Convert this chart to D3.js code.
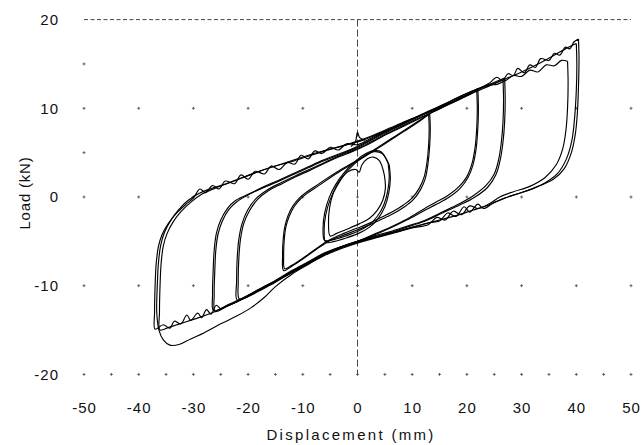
<!DOCTYPE html>
<html>
<head>
<meta charset="utf-8">
<script src="https://cdn.jsdelivr.net/npm/d3@7"></script>
<style>
  body { margin: 0; background: #fff; }
  text { font-family: "Liberation Sans", Arial, Helvetica, sans-serif; fill: #111; }
</style>
</head>
<body>
<svg id="chart" width="641" height="445"></svg>
<script>
// Axis ticks
const xTicks = [-50, -40, -30, -20, -10, 0, 10, 20, 30, 40, 50];
const yTicks = [-20, -10, 0, 10, 20];
// Grid marker rows / extra minor markers
const markerRows = [-20, -10, 0, 10];
const minorBottomX = [-45, -35, -25, -15, -5, 5, 15, 25, 35, 45];
const minorLeftY = [5, 15];

// Hysteresis cycles, [displacement (mm), load (kN)], traced clockwise from the positive peak
const loop40a = [[40.4,17.8],[40.5,15.5],[40.4,12.5],[40.2,9.5],[39.8,7],[39.1,5],[37.8,3.2],[35.8,2.0],[33,1.2],[30,0.5],[27,-0.1],[24,-0.9],[21,-1.5],[18,-2.1],[15,-2.6],[12,-3.1],[9,-3.6],[6,-4.1],[3,-4.6],[0,-5.1],[-3,-5.7],[-6,-6.5],[-9,-7.6],[-12,-8.7],[-15,-10.1],[-17,-11.3],[-19.5,-12.5],[-22,-13.4],[-25,-14.3],[-28,-15.3],[-30.5,-16.0],[-32.5,-16.6],[-34.3,-16.7],[-35.5,-16.1],[-36.3,-15.0],[-36.7,-13],[-36.6,-10],[-36.4,-7.5],[-36,-5.5],[-35.3,-4],[-34.2,-2.7],[-32.8,-1.5],[-31,-0.4],[-29,0.4],[-27,0.9],[-24,1.5],[-21,2.2],[-18,2.9],[-15,3.5],[-12,4.0],[-9,4.6],[-6,5.2],[-3,5.7],[0,6.3],[3,7.0],[6,7.8],[9,8.6],[12,9.3],[15,10.1],[18,10.9],[21,11.8],[24,12.8],[25.5,13.5],[26.5,13.1],[27.5,13.9],[28.5,13.7],[29.3,14.5],[30.5,14.0],[31.5,14.9],[32.5,14.6],[33.5,15.6],[35,15.4],[36,16.2],[37,16.0],[38,16.9],[38.8,16.7],[39.6,17.5],[40.4,17.8]];
const loop40b = [[40.0,17.3],[40.1,15],[40.0,12],[39.7,9],[39.2,6.4],[38.2,4.3],[36.5,2.6],[34,1.5],[31,0.7],[28,0.1],[25,-0.6],[23,-1.3],[22,-0.8],[20.5,-1.7],[19.5,-1.1],[18,-2.2],[16.5,-1.8],[15,-2.7],[13,-2.9],[10,-3.4],[7,-3.9],[4,-4.4],[1,-4.9],[-2,-5.5],[-5,-6.2],[-8,-7.1],[-11,-8.1],[-14,-9.1],[-17,-10.1],[-20,-11.1],[-22,-11.8],[-24,-12.3],[-25,-12.6],[-25.8,-12.2],[-26.8,-13.2],[-27.6,-12.7],[-28.5,-13.6],[-29.2,-13.1],[-30.5,-13.9],[-31.2,-13.3],[-32.3,-14.3],[-33.5,-14.0],[-34.3,-14.8],[-35.5,-14.4],[-37,-14.9],[-37.1,-13],[-37,-10],[-36.8,-7.5],[-36.4,-5.6],[-35.7,-4.2],[-34.6,-3.0],[-33.2,-1.9],[-31.5,-0.9],[-30,-0.1],[-28.8,0.9],[-27.8,0.5],[-26.5,1.3],[-25.3,0.9],[-24.2,1.8],[-22.5,1.5],[-21.3,2.5],[-20,2.0],[-18.7,2.9],[-17,2.6],[-15.8,3.5],[-14.3,3.1],[-12.8,3.9],[-11.5,3.7],[-10.3,4.7],[-9,4.3],[-7.8,5.2],[-6.5,4.9],[-5.0,5.6],[-3.5,5.3],[-2,6.0],[0,5.9],[3,6.8],[6,7.6],[9,8.5],[12,9.3],[15,10.0],[18,10.8],[21,11.7],[24,12.5],[27,13.3],[30,14.1],[33,15.0],[36,16.0],[38,16.7],[40,17.3]];
const loop38 = [[38.4,15.3],[38.5,13],[38.4,10],[38.1,7.5],[37.5,5.4],[36.3,3.6],[34.3,2.2],[31.5,1.2],[28.5,0.6],[26,0],[24,-0.8],[22,-1.3],[20.5,-1.0],[19,-2.0],[17.5,-1.6],[16,-2.6],[14.5,-2.3],[13,-3.1],[10,-3.5],[7,-4.0],[4,-4.5],[1,-5.0],[-2,-5.6],[-5,-6.3],[-8,-7.2],[-11,-8.2],[-14,-9.2],[-17,-10.2],[-20,-11.2],[-23,-12.1],[-26,-12.9],[-29,-13.6],[-32,-14.2],[-34.5,-14.7],[-36.1,-15.0],[-36.2,-13],[-36.1,-10],[-35.9,-7.5],[-35.5,-5.5],[-34.8,-4.1],[-33.7,-2.8],[-32.2,-1.6],[-30.5,-0.6],[-28.5,0.3],[-26,1.0],[-23,1.7],[-20,2.4],[-17,3.1],[-14,3.7],[-11,4.3],[-8,4.9],[-5,5.4],[-2,5.9],[0,6.2],[3,6.9],[6,7.7],[9,8.5],[12,9.3],[15,10.1],[18,10.9],[21,11.8],[24,12.6],[25.5,12.7],[27,13.1],[28.5,13.7],[30,13.6],[31.5,14.3],[33,14.1],[34.5,14.9],[36,14.8],[37.3,15.4],[38.4,15.3]];
const loop27a = [[26.9,13.4],[27.0,11],[26.9,8.5],[26.6,6.2],[26.1,4.2],[25.3,2.5],[23.8,1.1],[21.5,0],[18.7,-0.9],[15.5,-1.8],[12,-2.8],[9,-3.4],[6,-4.0],[3,-4.5],[0,-5.0],[-3,-5.6],[-6,-6.3],[-9,-7.3],[-12,-8.3],[-15,-9.4],[-18,-10.4],[-21,-11.4],[-23.5,-12.1],[-26.3,-12.8],[-26.5,-11],[-26.4,-8.5],[-26.2,-6],[-25.8,-4.1],[-25.0,-2.6],[-23.8,-1.3],[-22.3,-0.4],[-20,0.3],[-17,1.1],[-14,1.9],[-11.5,2.6],[-9,3.3],[-6.5,4.0],[-4,4.6],[-1.5,5.2],[1,5.9],[4,6.9],[7,7.8],[10,8.7],[13,9.6],[16,10.5],[19,11.4],[22,12.2],[24.5,12.8],[26.9,13.4]];
const loop27b = [[26.6,13.2],[26.7,11],[26.6,8.5],[26.3,6.2],[25.8,4.2],[25.0,2.6],[23.5,1.3],[21.3,0.2],[18.5,-0.8],[15.5,-1.7],[12,-2.7],[9,-3.3],[6,-3.9],[3,-4.4],[0,-5.0],[-3,-5.6],[-6,-6.4],[-9,-7.4],[-12,-8.4],[-15,-9.5],[-18,-10.5],[-21,-11.5],[-23.5,-12.2],[-26.0,-12.9],[-26.2,-11],[-26.1,-8.5],[-25.9,-6],[-25.5,-4.2],[-24.7,-2.7],[-23.5,-1.4],[-22,-0.5],[-19.8,0.3],[-17,1.2],[-14,2.0],[-11.5,2.7],[-9,3.4],[-6.5,4.1],[-4,4.7],[-1.5,5.3],[1,6.0],[4,7.0],[7,7.9],[10,8.8],[13,9.7],[16,10.5],[19,11.4],[22,12.2],[24.5,12.7],[26.6,13.2]];
const loop22a = [[22.0,12.2],[22.1,10],[22.0,7.8],[21.7,5.5],[21.1,3.6],[20.2,2.2],[18.8,1.0],[16.8,0],[14.5,-0.8],[12,-1.6],[9,-2.6],[6,-3.5],[3,-4.3],[0,-5.0],[-3,-5.6],[-6,-6.4],[-9,-7.4],[-12,-8.4],[-15,-9.5],[-18,-10.5],[-20,-11.1],[-21.6,-11.5],[-21.8,-9.5],[-21.7,-7],[-21.4,-4.8],[-20.8,-3.0],[-19.8,-1.6],[-18.3,-0.3],[-16.3,0.7],[-13.8,1.5],[-11.2,2.3],[-8.7,3.0],[-6,3.8],[-3.5,4.5],[-1,5.1],[1.5,5.8],[4.5,6.8],[7.5,7.7],[10.5,8.6],[13.5,9.5],[16.5,10.4],[19.5,11.4],[22.0,12.2]];
const loop22b = [[21.8,12.0],[21.9,10],[21.8,7.8],[21.5,5.6],[20.9,3.7],[20.0,2.3],[18.6,1.2],[16.6,0.2],[14.3,-0.6],[12,-1.4],[9,-2.5],[6,-3.4],[3,-4.2],[0,-5.0],[-3,-5.7],[-6,-6.5],[-9,-7.5],[-12,-8.5],[-15,-9.6],[-18,-10.6],[-20.2,-11.3],[-22.0,-11.6],[-22.1,-9.5],[-22.0,-7],[-21.7,-4.8],[-21.1,-3.0],[-20.1,-1.5],[-18.6,-0.2],[-16.5,0.8],[-14,1.6],[-11.3,2.4],[-8.8,3.1],[-6,3.9],[-3.5,4.6],[-1,5.2],[1.5,5.9],[4.5,6.9],[7.5,7.8],[10.5,8.7],[13.5,9.5],[16.5,10.4],[19.5,11.3],[21.8,12.0]];
const loop13a = [[13.2,9.4],[13.3,7.8],[13.2,5.8],[12.9,3.8],[12.4,2.1],[11.5,0.8],[10.2,-0.3],[8.6,-1.1],[6.5,-1.9],[4.1,-2.6],[2,-3.2],[0,-3.7],[-2.5,-4.3],[-5,-4.9],[-7.5,-5.9],[-10,-7.0],[-12,-7.8],[-13.5,-8.3],[-13.7,-6.6],[-13.6,-4.9],[-13.3,-3.4],[-12.7,-2.1],[-11.8,-1.0],[-10.6,-0.1],[-9.2,0.6],[-7.5,1.3],[-5.6,2.1],[-3.3,3.0],[-1,3.8],[1.2,4.6],[3.5,5.5],[6,6.5],[8.5,7.5],[11,8.5],[13.2,9.4]];
const loop13b = [[13.0,9.3],[13.1,7.8],[13.0,5.8],[12.7,3.9],[12.2,2.3],[11.3,1.0],[10.0,-0.1],[8.4,-0.9],[6.3,-1.7],[4.0,-2.4],[2,-3.0],[0,-3.5],[-2.5,-4.1],[-5,-4.8],[-7.5,-5.8],[-10,-6.9],[-12,-7.7],[-13.3,-8.1],[-13.5,-6.6],[-13.4,-4.9],[-13.1,-3.4],[-12.5,-2.2],[-11.6,-1.1],[-10.4,-0.2],[-9.0,0.5],[-7.3,1.2],[-5.4,2.0],[-3.2,2.9],[-1,3.7],[1.2,4.5],[3.5,5.4],[6,6.4],[8.5,7.4],[11,8.4],[13.0,9.3]];
const loop6a = [[5.6,3.8],[5.8,2.2],[5.5,0.6],[4.8,-0.9],[3.6,-2.2],[2.0,-3.2],[0,-3.9],[-2.2,-4.4],[-4.4,-4.8],[-6.0,-4.9],[-6.3,-3.5],[-6.0,-1.8],[-5.2,-0.1],[-4.0,1.4],[-2.5,2.7],[-0.8,3.8],[1.0,4.7],[2.8,5.2],[4.3,5.1],[5.6,3.8]];
const loop6b = [[5.8,3.6],[6.0,2.0],[5.7,0.4],[5.0,-1.1],[3.8,-2.4],[2.2,-3.4],[0.2,-4.1],[-2.0,-4.6],[-4.2,-5.0],[-5.8,-5.1],[-6.1,-3.7],[-5.8,-2.0],[-5.0,-0.3],[-3.8,1.2],[-2.3,2.6],[-0.6,3.7],[1.2,4.6],[3.0,5.1],[4.5,4.9],[5.8,3.6]];
const loop6c = [[4.9,2.5],[5.1,1.0],[4.6,-0.4],[3.6,-1.5],[2.2,-2.4],[0.4,-3.0],[-1.8,-3.6],[-3.8,-4.1],[-5.0,-4.4],[-5.3,-3.0],[-5.1,-1.2],[-4.4,0.5],[-3.2,1.9],[-1.6,2.9],[-0.3,3.1],[0.3,2.8],[0.8,3.6],[1.8,4.3],[2.9,4.5],[4.0,4.1],[4.9,2.5]];
const hookAtZero = [[-1.2,5.7],[-0.4,6.2],[0.0,7.3],[0.4,6.7],[1.4,6.4]];

const cycles = [loop40a, loop40b, loop38, loop27a, loop27b, loop22a, loop22b, loop13a, loop13b, loop6a, loop6b, loop6c, hookAtZero];

const svg = d3.select("#chart");
const x = d3.scaleLinear().domain([-50, 50]).range([84, 631]);
const y = d3.scaleLinear().domain([-20, 20]).range([374.4, 19.6]);

// Reference lines: top border at 20 kN and the zero-displacement line
svg.append("line")
  .attr("x1", x(-50)).attr("x2", x(50))
  .attr("y1", y(20)).attr("y2", y(20))
  .attr("stroke", "#333").attr("stroke-width", 0.9)
  .attr("stroke-dasharray", "4,2.5");
svg.append("line")
  .attr("x1", x(0)).attr("x2", x(0))
  .attr("y1", y(20)).attr("y2", y(-20))
  .attr("stroke", "#333").attr("stroke-width", 0.9)
  .attr("stroke-dasharray", "7,3");

// Grid markers
const markers = [];
markerRows.forEach(r => xTicks.forEach(c => markers.push([c, r])));
minorBottomX.forEach(c => markers.push([c, -20]));
minorLeftY.forEach(r => markers.push([-50, r]));
svg.append("g").selectAll("path").data(markers).join("path")
  .attr("transform", d => `translate(${x(d[0])},${y(d[1])})`)
  .attr("d", "M-1.5,0H1.5M0,-1.5V1.5")
  .attr("stroke", "#444").attr("stroke-width", 0.8);

// Axes (labels only)
const xAxis = svg.append("g")
  .attr("transform", `translate(0,${y(-20)})`)
  .call(d3.axisBottom(x).tickValues(xTicks).tickSize(0).tickPadding(28).tickFormat(d => String(d)));
xAxis.select(".domain").remove();
xAxis.selectAll("text").style("font-size", "15px").style("letter-spacing", "1px").attr("fill", "#111");

const yAxis = svg.append("g")
  .attr("transform", `translate(${x(-50)},0)`)
  .call(d3.axisLeft(y).tickValues(yTicks).tickSize(0).tickPadding(25).tickFormat(d => String(d)));
yAxis.select(".domain").remove();
yAxis.selectAll("text").style("font-size", "15px").style("letter-spacing", "1px").attr("fill", "#111");

// Axis titles
svg.append("text")
  .attr("x", 351).attr("y", 440)
  .attr("text-anchor", "middle")
  .style("font-size", "15px").style("letter-spacing", "2.3px")
  .text("Displacement (mm)");
svg.append("text")
  .attr("transform", "translate(30,193) rotate(-90)")
  .attr("text-anchor", "middle")
  .style("font-size", "15px").style("letter-spacing", "0.8px")
  .text("Load (kN)");

// Load-displacement cycles
const line = d3.line()
  .x(d => x(d[0]))
  .y(d => y(d[1]))
  .curve(d3.curveCatmullRom.alpha(0.5));
svg.append("g").selectAll("path").data(cycles).join("path")
  .attr("d", line)
  .attr("fill", "none")
  .attr("stroke", "#000")
  .attr("stroke-width", 1.15)
  .attr("stroke-linejoin", "round");
</script>
</body>
</html>
